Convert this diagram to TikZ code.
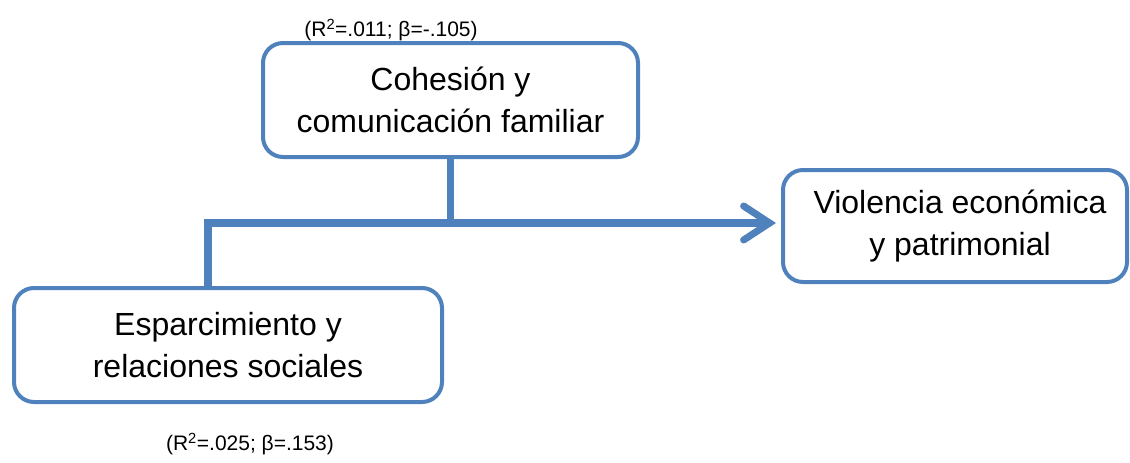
\documentclass[tikz,border=0pt]{standalone}
\usepackage{fontspec}
\setmainfont{Liberation Sans}
\usepackage{xcolor}
\usetikzlibrary{positioning}
\usetikzlibrary{arrows.meta}
\definecolor{boxBlue}{RGB}{79,129,189}
\tikzset{%
  factor/.style={rectangle, rounded corners=20pt, draw=boxBlue, fill=white, line width=4pt, align=center, font=\fontsize{32pt}{42pt}\selectfont},
  % coefficient labels
  coef/.style={inner sep=0pt, font=\fontsize{21pt}{24pt}\selectfont},
  % thick connectors
  flow/.style={draw=boxBlue, line width=7.5pt},
  flowArrow/.style={flow, -{Straight Barb[length=26pt, width=34pt, line width=7pt, line cap=round]}}}

\begin{document}
\begin{tikzpicture}[x=1pt,y=-1pt]
    \useasboundingbox (0,0) rectangle (1130,463);

    \node[factor, minimum width=375pt, minimum height=114pt] (cohesion) at (450.5,100) {Cohesión y\\comunicación familiar};
    \node[factor, minimum width=344pt, minimum height=112pt] (violencia) at (955,226) {\hspace*{10pt}Violencia económica\\\hspace*{10pt}y patrimonial};
    \node[factor, minimum width=428pt, minimum height=114pt] (esparcimiento) at (228,345) {Esparcimiento y\\relaciones sociales};

    \node[coef] (coefCohesion) at (391,30) {(R\textsuperscript{2}=.011; β=-.105)};
    \node[coef] (coefEsparcimiento) at (250,444) {(R\textsuperscript{2}=.025; β=.153)};

    \coordinate (elbow) at (208,223);
    \draw[flow] (cohesion.south) -- (cohesion.south |- elbow);
    \draw[flowArrow] (esparcimiento.north -| elbow) -- (elbow) -- ([xshift=-5pt]violencia.west |- elbow);
\end{tikzpicture}
\end{document}
